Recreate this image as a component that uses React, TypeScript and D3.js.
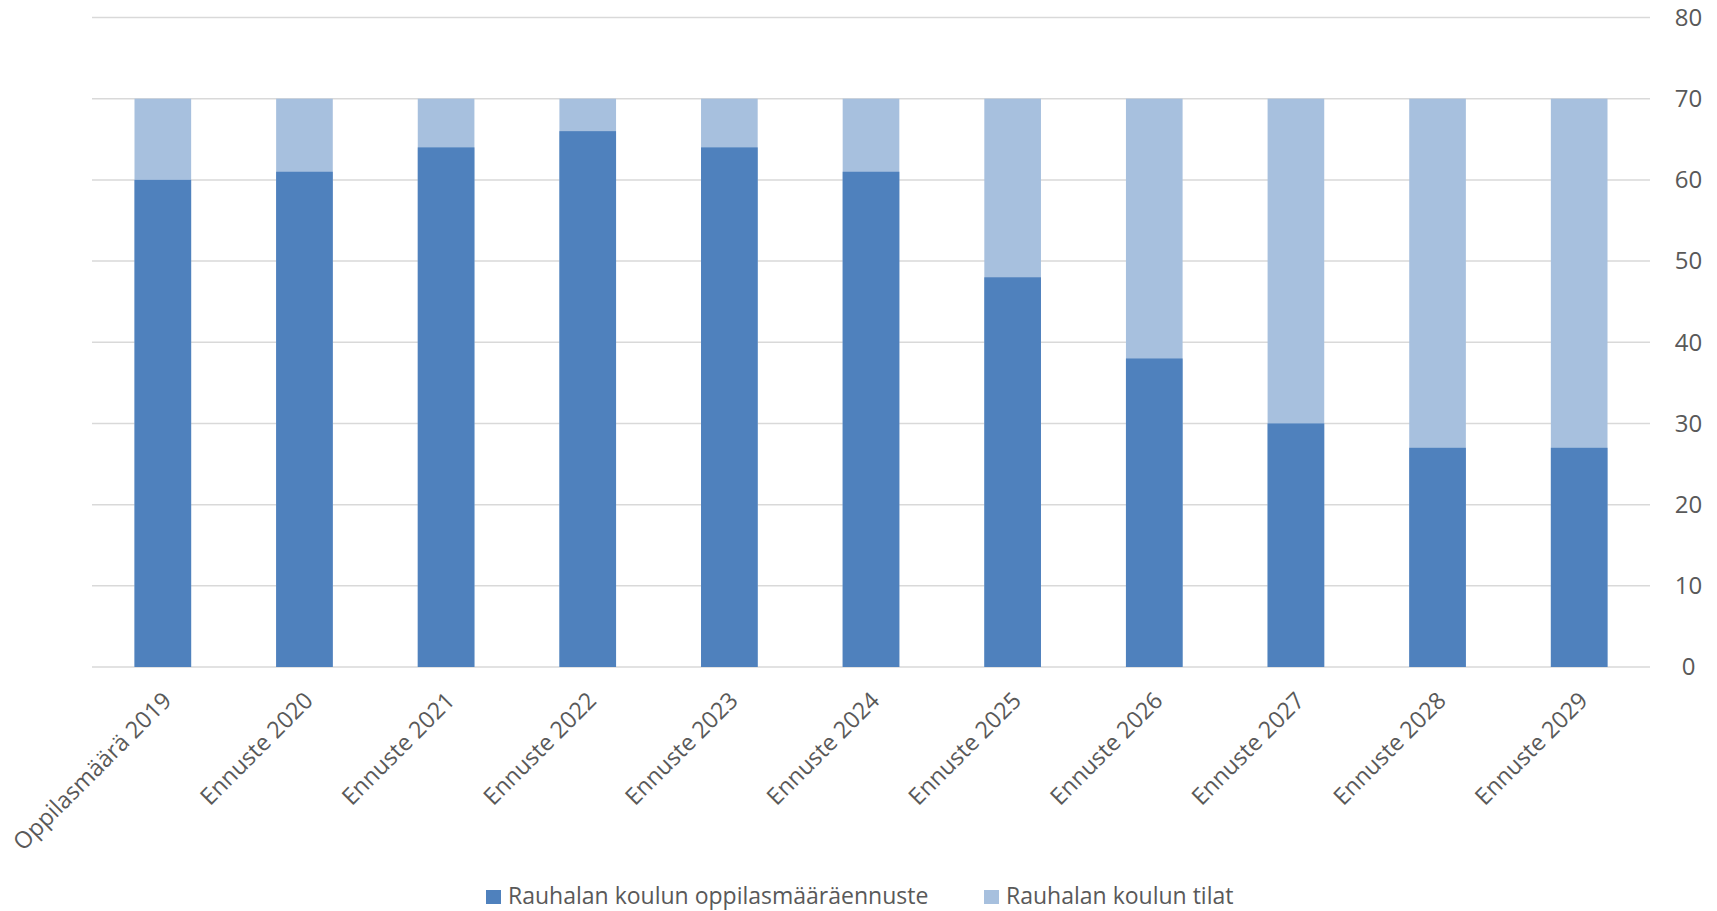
import React from "react";
import * as d3 from "d3";

const categories = [
  "Oppilasmäärä 2019",
  "Ennuste 2020",
  "Ennuste 2021",
  "Ennuste 2022",
  "Ennuste 2023",
  "Ennuste 2024",
  "Ennuste 2025",
  "Ennuste 2026",
  "Ennuste 2027",
  "Ennuste 2028",
  "Ennuste 2029",
];
const forecast = [60, 61, 64, 66, 64, 61, 48, 38, 30, 27, 27];
const capacity = [70, 70, 70, 70, 70, 70, 70, 70, 70, 70, 70];
const yTicks = [0, 10, 20, 30, 40, 50, 60, 70, 80];
const seriesNames = ["Rauhalan koulun oppilasmääräennuste", "Rauhalan koulun tilat"];

const W = 1717;
const H = 911;
const DARK = "#4F81BD";
const LIGHT = "#A7C0DE";
const FONT = "'Open Sans', sans-serif";
const TEXT = "#595959";

export default function App() {
  const left = 92;
  const right = 1650;
  const top = 17.5;
  const bottom = 667;
  const x = d3.scaleBand<string>().domain(categories).range([left, right]).paddingInner(0.6).paddingOuter(0.3);
  const y = d3.scaleLinear().domain([0, 80]).range([bottom, top]);
  const bw = x.bandwidth();

  return (
    <svg width={W} height={H} style={{ position: "absolute", left: 0, top: 0, background: "#fff" }}>
      {yTicks.map((t) => (
        <g key={t}>
          <line x1={left} x2={right} y1={y(t)} y2={y(t)} stroke="#D9D9D9" strokeWidth={1.5} />
          <text x={1688.5} y={y(t)} dy="0.35em" textAnchor="middle" fontFamily={FONT} fontSize={24} fill={TEXT}>
            {t}
          </text>
        </g>
      ))}
      {categories.map((c, i) => (
        <g key={c}>
          <rect x={x(c)!} y={y(capacity[i])} width={bw} height={y(0) - y(capacity[i])} fill={LIGHT} />
          <rect x={x(c)!} y={y(forecast[i])} width={bw} height={y(0) - y(forecast[i])} fill={DARK} />
          <text
            transform={`translate(${x(c)! + bw / 2 + 10},${bottom + 35}) rotate(-45)`}
            textAnchor="end"
            fontFamily={FONT}
            fontSize={23.3}
            fill={TEXT}
          >
            {c}
          </text>
        </g>
      ))}
      <g fontFamily={FONT} fontSize={23} fill={TEXT}>
        <rect x={486} y={890} width={15} height={14} fill={DARK} />
        <text x={508} y={904}>{seriesNames[0]}</text>
        <rect x={984} y={890} width={15} height={14} fill={LIGHT} />
        <text x={1006} y={904}>{seriesNames[1]}</text>
      </g>
    </svg>
  );
}
